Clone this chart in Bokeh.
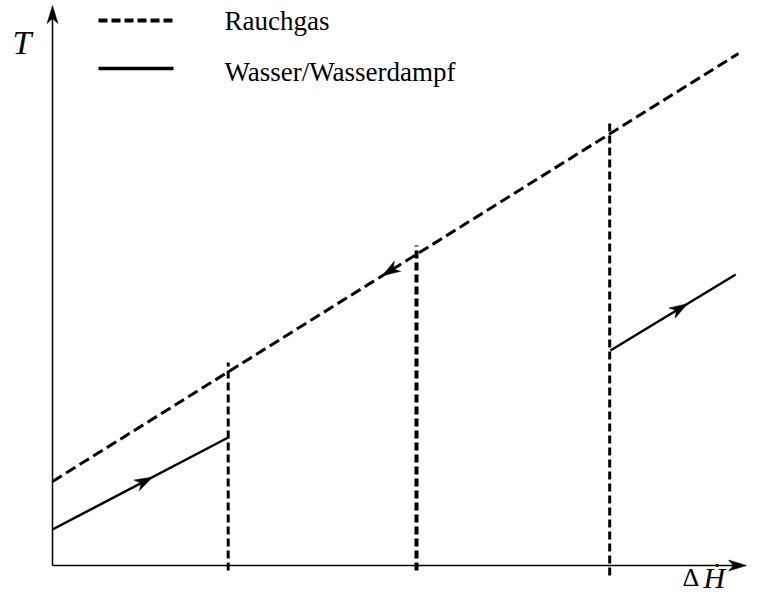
import math
from bokeh.plotting import figure
from bokeh.models import Range1d, Label
from bokeh.embed import file_html
from bokeh.resources import INLINE

# ---------------- data (ΔḢ in arbitrary units, T in arbitrary units) ----------------
rauchgas_dH = [0.0, 98.0]
rauchgas_T = [16.8, 102.4]

wasser1_dH = [0.0, 25.1]
wasser1_T = [7.2, 25.6]

wasser2_dH = [79.7, 97.6]
wasser2_T = [43.0, 58.2]

grenzen_dH = [25.1, 52.0, 79.6]
grenzen_T_unten = [-1.0, -1.0, -2.0]
grenzen_T_oben = [40.6, 64.0, 88.6]
grenzen_breite = [3, 4, 3]

# arrow tips (ΔḢ position) and flow direction on each stream
pfeil_dH = [14.3, 90.7, 47.1]
pfeil_linie = ["wasser1", "wasser2", "rauchgas"]
pfeil_richtung = [1, 1, -1]

legend_labels = ["Rauchgas", "Wasser/Wasserdampf"]

# ---------------- layout ----------------
W, H = 748, 595
OX, OY = 52, 565          # axis origin in canvas pixels
SX, SY = 7.0, 5.0         # pixels per data unit
x0 = (0 - OX) / SX
x1 = (W - OX) / SX
y0 = (OY - H) / SY
y1 = (OY - 0) / SY
TXT_SHIFT = 11            # rendered text sits this much lower than its anchor


def dx(px):
    return (px - OX) / SX


def dy(py):
    return (OY - py) / SY


def ty(py):
    return dy(py - TXT_SHIFT)


p = figure(width=W, height=H, x_range=Range1d(x0, x1), y_range=Range1d(y0, y1),
           output_backend="svg", toolbar_location=None, min_border=0,
           x_axis_location=None, y_axis_location=None)
p.grid.visible = False
p.outline_line_color = None
p.background_fill_color = "white"
p.border_fill_color = "white"

# streams
p.line(rauchgas_dH, rauchgas_T, line_color="black", line_width=3, line_dash="11 5")
p.line(wasser1_dH, wasser1_T, line_color="black", line_width=2.5)
p.line(wasser2_dH, wasser2_T, line_color="black", line_width=2.5)

# boundaries
for xg, ylo, yhi, lw in zip(grenzen_dH, grenzen_T_unten, grenzen_T_oben, grenzen_breite):
    p.line([xg, xg], [ylo, yhi], line_color="black", line_width=lw, line_dash="8 4")


def stealth(tx, ty_, ux, uy, L=18.0, w=6.0, notch=5.0):
    nx, ny = -uy, ux
    pts = [(0.0, 0.0),
           (-L * ux + w * nx, -L * uy + w * ny),
           (-(L - notch) * ux, -(L - notch) * uy),
           (-L * ux - w * nx, -L * uy - w * ny)]
    return [tx + a / SX for a, b in pts], [ty_ + b / SY for a, b in pts]


lines = {"wasser1": (wasser1_dH, wasser1_T),
         "wasser2": (wasser2_dH, wasser2_T),
         "rauchgas": (rauchgas_dH, rauchgas_T)}

axs, ays = [], []
for xt, name, sgn in zip(pfeil_dH, pfeil_linie, pfeil_richtung):
    lx, ly = lines[name]
    t = (xt - lx[0]) / (lx[1] - lx[0])
    yt = ly[0] + t * (ly[1] - ly[0])
    vx = (lx[1] - lx[0]) * SX * sgn
    vy = (ly[1] - ly[0]) * SY * sgn
    n = math.hypot(vx, vy)
    xs, ys = stealth(xt, yt, vx / n, vy / n)
    axs.append(xs)
    ays.append(ys)

# axes with arrows
x_tip = dx(746)
y_tip = dy(5)
p.line([0, x_tip - 8 / SX], [0, 0], line_color="black", line_width=1.5)
p.line([0, 0], [0, y_tip - 8 / SY], line_color="black", line_width=1.5)
xs, ys = stealth(x_tip, 0, 1.0, 0.0, L=18, w=5.5, notch=5)
axs.append(xs)
ays.append(ys)
xs, ys = stealth(0, y_tip, 0.0, 1.0, L=18, w=5.5, notch=5)
axs.append(xs)
ays.append(ys)
p.patches(axs, ays, fill_color="black", line_color="black", line_width=0.5)

# legend
p.line([dx(98), dx(173)], [dy(20), dy(20)], line_color="black", line_width=4, line_dash="9 4")
p.line([dx(98), dx(173)], [dy(68), dy(68)], line_color="black", line_width=3.5)
FONT = "Liberation Serif"
p.add_layout(Label(x=dx(224), y=ty(31), text=legend_labels[0], text_font=FONT,
                   text_font_size="27px", text_color="black", text_baseline="alphabetic"))
p.add_layout(Label(x=dx(224), y=ty(82), text=legend_labels[1], text_font=FONT,
                   text_font_size="27px", text_color="black", text_baseline="alphabetic"))

# axis titles
p.add_layout(Label(x=dx(12), y=ty(53), text="T", text_font=FONT, text_font_style="italic",
                   text_font_size="34px", text_color="black", text_baseline="alphabetic"))
p.add_layout(Label(x=dx(682), y=ty(588), text="Δ", text_font=FONT,
                   text_font_size="26px", text_color="black", text_baseline="alphabetic"))
p.add_layout(Label(x=dx(703), y=ty(588), text="Ḣ", text_font=FONT, text_font_style="italic",
                   text_font_size="30px", text_color="black", text_baseline="alphabetic"))

open("out.html", "w").write(file_html(p, INLINE))
